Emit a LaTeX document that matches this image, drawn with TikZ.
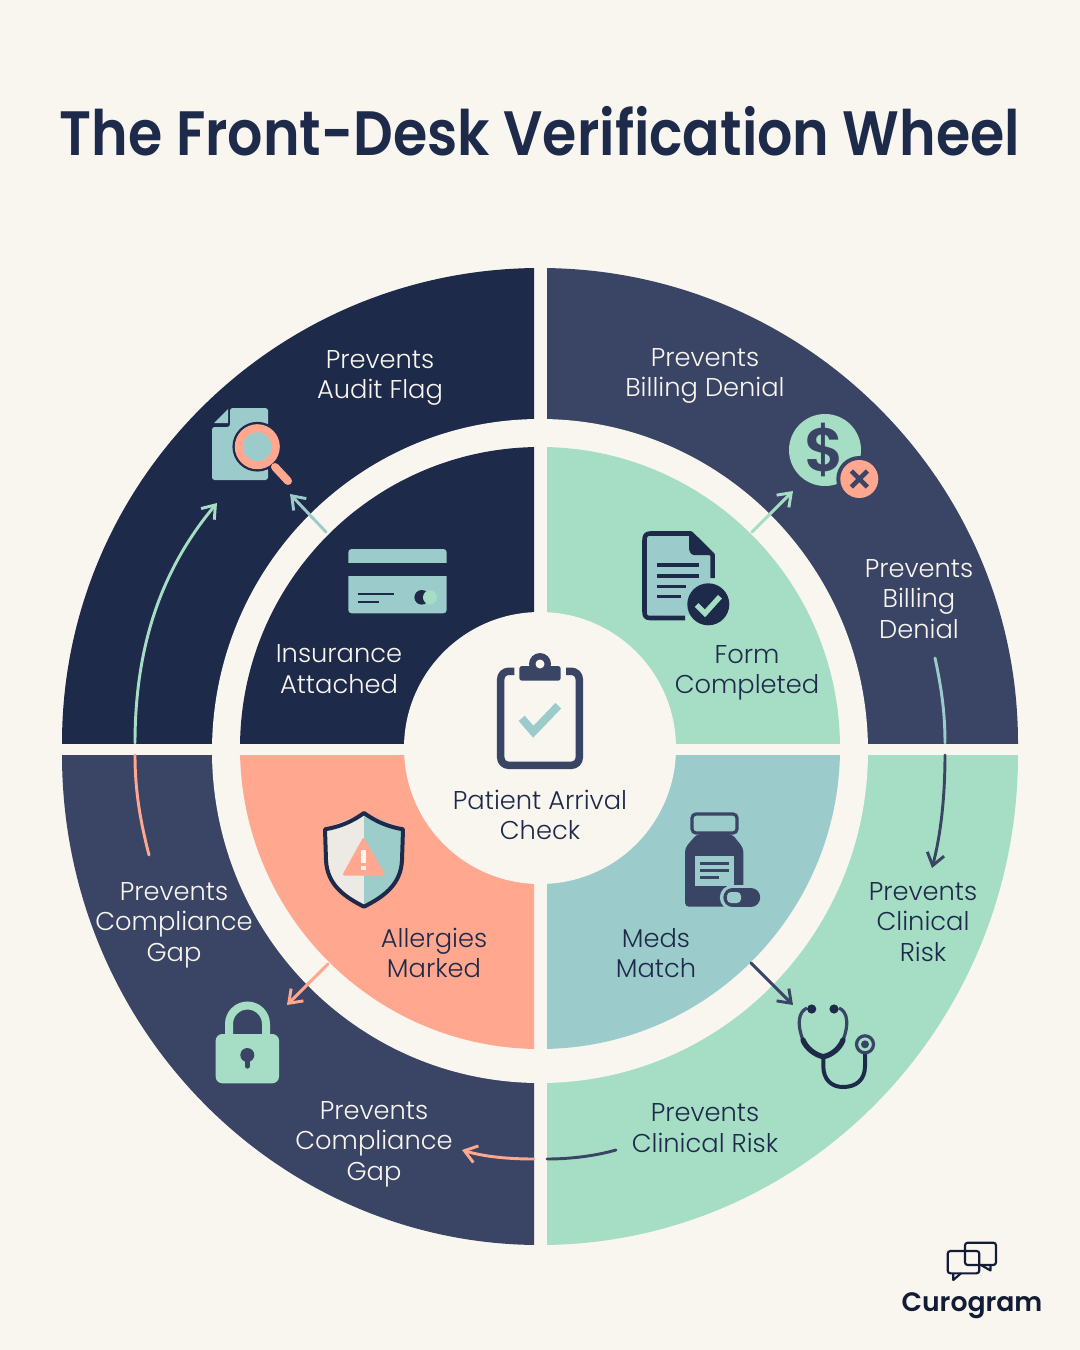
\documentclass[tikz,border=0pt]{standalone}
\usepackage{fontspec}
\setmainfont{Poppins}[UprightFont=* Light,BoldFont=* SemiBold]
\usetikzlibrary{arrows.meta}
\definecolor{paper}{HTML}{F9F6F0}
\definecolor{navy}{HTML}{1E2A4A}
\definecolor{slate}{HTML}{3A4565}
\definecolor{mint}{HTML}{A5DEC4}
\definecolor{teal}{HTML}{9CCBCB}
\definecolor{salmon}{HTML}{FFA78F}
\definecolor{ink}{HTML}{121C35}
\tikzset{
  x=0.75pt,y=-0.75pt,
  lbl/.style={font=\fontsize{19.3}{22.9}\selectfont,align=center,inner sep=0pt},
  lightlbl/.style={lbl,text=paper},
  darklbl/.style={lbl,text=navy},
  conn/.style={line width=2.2pt,line cap=round},
  connhead/.style={conn,-{Straight Barb[length=9pt,width=13pt,line width=2.2pt]}},
}
\begin{document}
\begin{tikzpicture}
\useasboundingbox (0,0) rectangle (1080,1350);
\fill[paper] (0,0) rectangle (1080,1350);
% outer quadrants
\begin{scope}\clip (0,0) rectangle (534,743);
 \fill[navy] (540,743) ellipse[x radius=358.5pt,y radius=356.25pt];\end{scope}
\begin{scope}\clip (547,0) rectangle (1080,743);
 \fill[slate] (540,743) ellipse[x radius=358.5pt,y radius=356.25pt];\end{scope}
\begin{scope}\clip (0,755) rectangle (534,1350);
 \fill[slate] (540,755) ellipse[x radius=358.5pt,y radius=367.5pt];\end{scope}
\begin{scope}\clip (547,755) rectangle (1080,1350);
 \fill[mint] (540,755) ellipse[x radius=358.5pt,y radius=367.5pt];\end{scope}
% ring
\fill[paper] (540,751) ellipse[x radius=246pt,y radius=249pt];
% inner quadrants
\begin{scope}\clip (0,0) rectangle (534,743);
 \fill[navy] (540,748) ellipse[x radius=225pt,y radius=225.75pt];\end{scope}
\begin{scope}\clip (547,0) rectangle (1080,743);
 \fill[mint] (540,748) ellipse[x radius=225pt,y radius=225.75pt];\end{scope}
\begin{scope}\clip (0,755) rectangle (534,1350);
 \fill[salmon] (540,748) ellipse[x radius=225pt,y radius=225.75pt];\end{scope}
\begin{scope}\clip (547,755) rectangle (1080,1350);
 \fill[teal] (540,748) ellipse[x radius=225pt,y radius=225.75pt];\end{scope}
% hub
\fill[paper] (540,748) circle[radius=102pt];

% title
\node[inner sep=0pt,text=navy,font=\fontsize{47}{50}\bfseries] (title) at (540,131) {\scalebox{0.885}[1]{The Front-Desk Verification Wheel}};

% labels
\node[lightlbl] (audit) at (380,378) {Prevents\\Audit Flag};
\node[lightlbl] (bill1) at (705,376) {Prevents\\Billing Denial};
\node[lightlbl] (bill2) at (919,599) {Prevents\\Billing\\Denial};
\node[darklbl] (clin1) at (923,922) {Prevents\\Clinical\\Risk};
\node[darklbl] (clin2) at (705,1128) {Prevents\\Clinical Risk};
\node[lightlbl] (comp1) at (374,1144) {Prevents\\Compliance\\Gap};
\node[lightlbl] (comp2) at (174,925) {Prevents\\Compliance\\Gap};
\node[lightlbl] (ins) at (339,669) {Insurance\\Attached};
\node[darklbl] (form) at (747,673) {Form\\Completed};
\node[darklbl] (meds) at (656,953) {Meds\\Match};
\node[darklbl] (allg) at (434,953) {Allergies\\Marked};
\node[darklbl] (hub) at (540,815) {Patient Arrival\\Check};

% connector end points
\coordinate (a1) at (326,532); \coordinate (a2) at (290,494);
\coordinate (b1) at (752,532); \coordinate (b2) at (793,491);
\coordinate (c1) at (751,963); \coordinate (c2) at (793,1005);
\coordinate (d1) at (328,964); \coordinate (d2) at (287,1005);
\coordinate (e1) at (149,855); \coordinate (e2) at (135,755);
\coordinate (e3) at (135,743); \coordinate (e4) at (217,503);
\coordinate (f1) at (935,658); \coordinate (f2) at (945,743);
\coordinate (f3) at (945,755); \coordinate (f4) at (932,868);
\coordinate (g1) at (616,1150); \coordinate (g2) at (547,1159);
\coordinate (g3) at (534,1159); \coordinate (g4) at (462,1150);
\draw[connhead,teal] (a1) -- (a2);
\draw[connhead,mint] (b1) -- (b2);
\draw[connhead,slate] (c1) -- (c2);
\draw[connhead,salmon] (d1) -- (d2);
\draw[conn,salmon] (e1) .. controls (140,820) and (135,790) .. (e2);
\draw[connhead,mint] (e3) .. controls (135,640) and (165,565) .. (e4);
\draw[conn,teal] (f1) .. controls (942,690) and (945,715) .. (f2);
\draw[connhead,slate] (f3) .. controls (945,790) and (942,830) .. (f4);
\draw[conn,slate] (g1) .. controls (595,1156) and (570,1159) .. (g2);
\draw[connhead,salmon] (g3) .. controls (510,1159) and (485,1157) .. (g4);

% icon: document + magnifier
\fill[teal,rounded corners=2pt] (230,408) -- (268,408) -- (268,480) -- (212,480) -- (212,427) -- (230,427) -- cycle;
\fill[teal] (214,423) -- (228,409) -- (228,423) -- cycle;
\draw[navy,line width=9.5pt] (257.3,446.7) circle[radius=18.5];
\draw[navy,line width=11pt,line cap=round] (275,467) -- (288,481);
\fill[teal] (257.3,446.7) circle[radius=18.5];
\draw[salmon,line width=6pt] (257.3,446.7) circle[radius=18.5];
\draw[salmon,line width=6pt,line cap=round] (275,467) -- (288,481);
% icon: card
\fill[teal,rounded corners=2.5pt] (348.3,549) rectangle (446.7,570);
\fill[teal,rounded corners=2.5pt] (348.3,565) rectangle (446.7,613.3);
\fill[navy] (340,562.7) rectangle (455,575.7);
\draw[navy,line width=2.2pt] (357.7,594) -- (394.3,594) (357.7,602) -- (379,602);
\fill[navy] (421.7,597.3) circle[radius=7.3];
\fill[mint] (430,597.3) circle[radius=7];
% icon: form
\fill[teal] (646,535) -- (691,535) -- (710,555) -- (710,615) -- (646,616) -- cycle;
\draw[navy,line width=3.4pt,line join=round] (712.7,578) -- (712.7,555) -- (691,533.5) -- (650,533.5) .. controls (646,533.5) and (644.5,536) .. (644.5,540) -- (644.5,612) .. controls (644.5,616) and (646,618) .. (650,618) -- (685,618);
\fill[navy,rounded corners=1.5pt] (689,532) -- (712.7,555) -- (696,555) .. controls (691,555) and (689,551) .. (689,546) -- cycle;
\draw[navy,line width=2.4pt] (656.7,565) -- (699,565) (656.7,576) -- (699,576) (656.7,586.3) -- (686,586.3) (656.7,596.7) -- (681,596.7);
\fill[navy] (708.3,604.3) circle[radius=21];
\draw[mint,line width=4pt] (696.7,605) -- (705,613.3) -- (720,596.7);
% icon: dollar
\fill[mint] (825,450) circle[radius=36];
\node[inner sep=0pt,text=slate,font=\fontsize{46}{48}\bfseries] (dollar) at (825,450) {\$};
\fill[slate] (859.3,479) circle[radius=23];
\fill[salmon] (859.3,479) circle[radius=19];
\draw[slate,line width=3.4pt] (851.3,471) -- (867.3,487) (851.3,487) -- (867.3,471);
% icon: meds
\draw[slate,line width=2.4pt,fill=teal,rounded corners=3pt] (692,814) rectangle (737,833);
\fill[slate,rounded corners=3pt] (697,834) -- (732,834) -- (743.3,848) -- (743.3,906.7) -- (685,906.7) -- (685,848) -- cycle;
\fill[teal] (695,855.7) rectangle (734,886);
\draw[slate,line width=2pt] (700,863.3) -- (729,863.3) (700,870.7) -- (729,870.7) (700,877.7) -- (719.3,877.7);
\draw[teal,line width=19pt,line cap=round] (732.5,897.5) -- (751,897.5);
\draw[slate,line width=13.8pt,line cap=round] (732.5,897.5) -- (751,897.5);
\fill[teal,rounded corners=3pt] (727,892) -- (741,892) -- (741,903) -- (727,903) -- cycle;
% icon: stethoscope
\draw[slate,line width=2.4pt] (807,1008) .. controls (798,1012) and (797,1025) .. (803,1040) (839,1008) .. controls (848,1012) and (849,1025) .. (843,1040);
\draw[navy,line width=4pt,line cap=round] (803,1040) .. controls (806,1048) and (815,1055) .. (823.3,1056.7) .. controls (832,1055) and (840,1048) .. (843,1040);
\draw[navy,line width=3pt,line cap=round] (823.3,1056.7) -- (823.3,1066) .. controls (823.3,1080) and (832,1087) .. (843,1087) .. controls (856,1087) and (865,1080) .. (865,1066) -- (865,1053);
\fill[navy] (811.7,1009) circle[radius=4.6] (834,1009) circle[radius=4.6];
\draw[slate,line width=2.4pt] (865,1044.3) circle[radius=8.5];
\fill[slate] (865,1044.3) circle[radius=4];
% icon: shield
\path[fill=paper!90!gray] (364,813) -- (324,829.3) -- (325,860) .. controls (326,885) and (345,897) .. (364,906.7) -- cycle;
\path[fill=teal!90!mint] (364,813) -- (404,829.3) -- (403,860) .. controls (402,885) and (383,897) .. (364,906.7) -- cycle;
\draw[navy,line width=3pt,line join=round] (364,813) .. controls (350,823) and (338,827) .. (325,829.3) -- (326,860) .. controls (327,885) and (345,897) .. (364,906.7) .. controls (383,897) and (401,885) .. (402,860) -- (403,829.3) .. controls (390,827) and (378,823) .. (364,813) -- cycle;
\fill[salmon,rounded corners=2pt] (363.5,836.7) -- (385.5,875.5) -- (342,875.5) -- cycle;
\draw[paper,line width=3.6pt] (363.7,850) -- (363.7,863) (363.7,866) -- (363.7,870);
% icon: lock
\draw[mint,line width=6pt] (229,1036) -- (229,1024) arc[start angle=180,end angle=360,radius=18.5] -- (266,1036);
\fill[mint,rounded corners=5pt] (215.7,1034) rectangle (279,1083.3);
\fill[slate] (247.3,1055) circle[radius=7];
\draw[slate,line width=4pt,line cap=round] (247.3,1055) -- (247.3,1066);
% icon: clipboard
\draw[slate,line width=5.6pt,rounded corners=6pt] (514.3,671.3) -- (500.7,671.3) -- (500.7,765.3) -- (579.3,765.3) -- (579.3,671.3) -- (566,671.3);
\fill[slate] (540,664) circle[radius=11];
\fill[slate,rounded corners=2pt] (519.3,666) rectangle (560.7,680.7);
\fill[paper] (540,664) circle[radius=4.5];
\draw[teal,line width=6pt] (521.7,718.3) -- (533.3,731.7) -- (558.3,705.7);
% logo
\draw[ink,line width=1.6pt,rounded corners=2pt] (965,1242.7) rectangle (996,1265);
\draw[ink,line width=1.6pt,line join=round] (981,1265) -- (990.5,1270.5) -- (990.5,1265);
\draw[ink,line width=1.6pt,rounded corners=2pt] (947.7,1251) rectangle (979.3,1273.3);
\draw[ink,line width=1.6pt,line join=round] (953.3,1273.3) -- (953.3,1280) -- (961,1273.3);
\node[inner sep=0pt,text=ink,font=\fontsize{20}{24}\bfseries] (logo) at (972,1306) {Curogram};
\end{tikzpicture}
\end{document}
